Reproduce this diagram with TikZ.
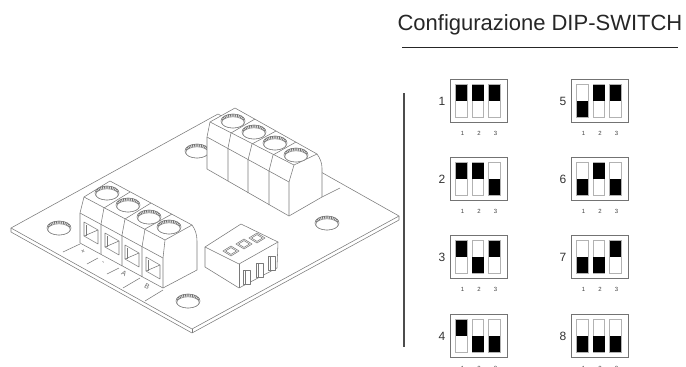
\documentclass[tikz,border=0pt]{standalone}
\usepackage{fontspec}
\setmainfont{Liberation Sans}
\usetikzlibrary{calc}
\tikzset{
	edge/.style={draw=black!52, line width=0.55pt, line join=round},
	digit/.style={inner sep=0pt, font=\fontsize{12}{12}\selectfont, text=black!80},
	tick/.style={inner sep=0pt, font=\fontsize{6}{6}\selectfont, text=black!75},
	silk/.style={inner sep=0pt, font=\fontsize{7}{7}\selectfont, text=black!60},
}
% hole in the board, or screw head on a terminal block
\def\screwhole(#1,#2){
	\draw[edge, fill=white] (#1, #2) ellipse (12 and 7);
	\draw[black!55, line width=2.6pt, dash pattern=on 0.9pt off 0.9pt] ($(#1, #2)+(-10.6, -1.2)$) arc[start angle=190, end angle=350, x radius=10.8, y radius=5.6];
	\draw[edge, fill=white] (#1, #2+1.4) ellipse (11.2 and 5.6);
}
% opening in the front of a terminal block
\def\clampwindow(#1,#2){
	\draw[edge] (#1, #2) -- ++(14, 8) -- ++(0, 14) -- ++(-14, -8) -- cycle;
	\draw[edge] (#1+2, #2+3) -- ++(0, 11);
	\draw[edge] (#1, #2+14) -- (#1+14, #2+8);
}
% one switch: #1,#2 = corner of the box, #3 = name, #4,#5,#6 = slider ends
\def\dipslot(#1,#2)(#3){
	\draw[draw=black!30, line width=0.9pt, fill=white] (#1, #2) rectangle ++(11.5, 32.5);
	\fill[black] (#1, #2+#3) rectangle ++(11.5, 16.25);
}
\def\dipbox(#1,#2)(#3)(#4,#5,#6){
	\draw[draw=black!55, line width=1pt] (#1, #2) rectangle ++(57, 43);
	\dipslot(#1+5.8,#2+5.5)(#4)
	\dipslot(#1+22.2,#2+5.5)(#5)
	\dipslot(#1+38.6,#2+5.5)(#6)
	\node[digit] (digit#3) at (#1-8, #2+22) {#3};
	\node[tick] (tick#3a) at (#1+12.5, #2+54) {1};
	\node[tick] (tick#3b) at (#1+29, #2+54) {2};
	\node[tick] (tick#3c) at (#1+45.5, #2+54) {3};
}
% slider on top of the dip block
\def\dipslider(#1,#2){
	\draw[edge] (#1-8, #2) -- (#1, #2-5) -- (#1+8, #2) -- (#1, #2+5) -- cycle;
	\draw[edge] (#1-5.5, #2) -- (#1, #2-3.4) -- (#1+5.5, #2) -- (#1, #2+3.4) -- cycle;
}
% pin of the dip block
\def\dippin(#1,#2){
	\draw[edge, fill=white] (#1, #2) rectangle ++(7, 14);
	\draw[edge] (#1+2, #2) -- ++(0, 14);
}

\begin{document}
\begin{tikzpicture}[x=1pt, y=-1pt]
	%%%%% BOARD %%%%%
	\clip (0, 0) rectangle (686, 367);
	\draw[edge, fill=white] (11, 228) -- (218, 114) -- (399, 216) -- (192, 329) -- cycle;
	\draw[edge] (11, 228) -- (11, 232) -- (192, 333) -- (399, 220) -- (399, 216);
	\draw[edge] (192, 329) -- (192, 333);
	
	\screwhole(59,228)
	\screwhole(197,151)
	\screwhole(327,223)
	\screwhole(188,301)
	
	%%%%% FRONT TERMINAL %%%%%
	\draw[edge] (80, 244) -- (63, 252);
	\draw[edge] (98, 258) -- (87, 264);
	\draw[edge] (119, 268) -- (107, 274);
	\draw[edge] (140, 278) -- (123, 288);
	\draw[edge] (163, 290) -- (145, 301);
	\node[silk, rotate=-28] (plus) at (83, 252) {+};
	\node[silk, rotate=-28] (minus) at (103, 263) {-};
	\node[silk, rotate=-28] (letterA) at (124, 273) {A};
	\node[silk, rotate=-28] (letterB) at (147, 286) {B};
	
	\draw[edge, fill=white] (110, 181) -- (192, 225) .. controls (195, 229) and (197, 234) .. (197, 241) -- (197, 270) -- (163, 288) -- (80, 243) -- (80, 213) -- (84, 197) -- cycle;
	\draw[edge] (84, 197) -- (165, 240) -- (192, 225);
	\draw[edge] (165, 240) -- (163, 258) -- (163, 288);
	\draw[edge] (80, 213) -- (163, 258);
	\draw[edge] (130, 192) -- (104, 208) -- (101, 224) -- (101, 254);
	\draw[edge] (151, 203) -- (125, 219) -- (122, 235) -- (122, 266);
	\draw[edge] (172, 214) -- (145, 229) -- (142, 247) -- (142, 277);
	
	\screwhole(107,193)
	\screwhole(128,205)
	\screwhole(149,217)
	\screwhole(169,227)
	
	\clampwindow(84,222)
	\clampwindow(105,233)
	\clampwindow(125,245)
	\clampwindow(146,257)
	
	%%%%% BACK TERMINAL %%%%%
	\draw[edge] (322, 197) -- (340, 188);
	\draw[edge, fill=white] (235, 108) -- (317, 154) .. controls (320, 158) and (322, 163) .. (322, 168) -- (322, 197) -- (289, 216) -- (207, 169) -- (207, 137) -- (210, 122) -- cycle;
	\draw[edge] (210, 122) -- (294, 165) -- (317, 154);
	\draw[edge] (294, 165) -- (289, 182) -- (289, 216);
	\draw[edge] (207, 137) -- (289, 182);
	\draw[edge] (255, 119) -- (231, 133) -- (228, 148) -- (228, 181);
	\draw[edge] (276, 131) -- (252, 144) -- (248, 160) -- (248, 193);
	\draw[edge] (296, 142) -- (273, 155) -- (269, 171) -- (269, 205);
	
	\screwhole(233,121)
	\screwhole(254,132)
	\screwhole(275,143)
	\screwhole(296,155)
	
	%%%%% DIP BLOCK %%%%%
	\draw[edge, fill=white] (205, 247) -- (241, 224) -- (278, 242) -- (277, 268) -- (239, 288) -- (205, 267) -- cycle;
	\draw[edge] (205, 247) -- (239, 264) -- (278, 242);
	\draw[edge] (239, 264) -- (239, 288);
	\dipslider(231,251)
	\dipslider(244,244)
	\dipslider(257,238)
	\dippin(243,270)
	\dippin(256,263)
	\dippin(268,256)
	
	%%%%% CONFIGURATION %%%%%
	\node[inner sep=0pt, font=\fontsize{22}{22}\selectfont, text=black!85] (title) at (540, 25) {Configurazione DIP-SWITCH};
	\draw[black!85, line width=1.5pt] (402, 47.5) -- (678, 47.5);
	\draw[black!70, line width=1.6pt] (404, 93) -- (404, 347);
	
	\dipbox(450,79)(1)(0,0,0)
	\dipbox(450,157)(2)(0,0,16.25)
	\dipbox(450,235)(3)(0,16.25,0)
	\dipbox(450,314)(4)(0,16.25,16.25)
	\dipbox(571,79)(5)(16.25,0,0)
	\dipbox(571,157)(6)(16.25,0,16.25)
	\dipbox(571,235)(7)(16.25,16.25,0)
	\dipbox(571,314)(8)(16.25,16.25,16.25)
\end{tikzpicture}
\end{document}
